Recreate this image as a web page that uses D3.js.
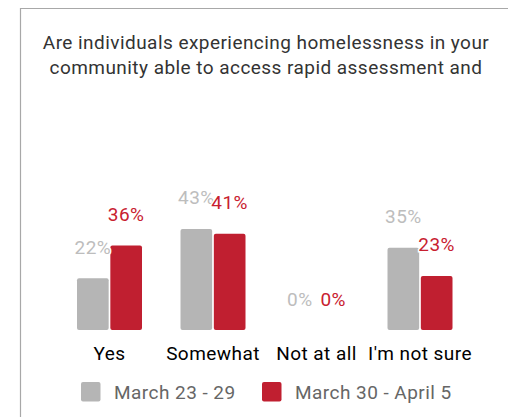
<!DOCTYPE html>
<html>
<head>
<meta charset="utf-8">
<script src="https://cdn.jsdelivr.net/npm/d3@7/dist/d3.min.js"></script>
<style>
html,body{margin:0;padding:0;background:#fff;}
svg{display:block;font-family:Roboto,"Noto Sans",sans-serif;letter-spacing:0.45px;}
</style>
</head>
<body>
<svg id="chart" width="508" height="417"></svg>
<script>
const titleLines = ["Are individuals experiencing homelessness in your", "community able to access rapid assessment and"];
const categories = ["Yes", "Somewhat", "Not at all", "I'm not sure"];
const seriesNames = ["March 23 - 29", "March 30 - April 5"];
const march23 = [22, 43, 0, 35];
const march30 = [36, 41, 0, 23];
const colors = ["#b5b5b5", "#c01f30"];
const labelColors = ["#bdbdbd", "#c8202f"];

const svg = d3.select("#chart");
const W = 508, H = 417;

// frame
svg.append("path").attr("d", `M20.5,${H} L20.5,8.5 L${W},8.5`)
  .attr("fill", "none").attr("stroke", "#a8a8a8").attr("stroke-width", 1.2);

// title
svg.append("g").selectAll("text").data(titleLines).join("text")
  .attr("x", 266).attr("y", (d, i) => 48.5 + i * 25)
  .attr("text-anchor", "middle").attr("font-size", 19).attr("fill", "#333")
  .text(d => d);

const x0 = d3.scaleBand().domain(categories).range([57.75, 471.75]);
const groupW = 65;
const x1 = d3.scaleBand().domain(seriesNames).range([0, groupW]).paddingInner(0.05);
const y = d3.scaleLinear().domain([0, 100]).range([330, 95]);

const data = categories.map((c, i) => ({ cat: c, vals: [march23[i], march30[i]] }));

const groups = svg.append("g").selectAll("g").data(data).join("g")
  .attr("transform", d => `translate(${x0(d.cat) + (x0.bandwidth() - groupW) / 2},0)`);

groups.selectAll("rect").data(d => d.vals.map((v, j) => ({ v, j }))).join("rect")
  .attr("x", d => x1(seriesNames[d.j]))
  .attr("width", x1.bandwidth())
  .attr("y", d => y(d.v))
  .attr("height", d => y(0) - y(d.v))
  .attr("rx", 2).attr("ry", 2)
  .attr("fill", d => colors[d.j]);

groups.selectAll("text").data(d => d.vals.map((v, j) => ({ v, j }))).join("text")
  .attr("x", d => x1(seriesNames[d.j]) + x1.bandwidth() / 2)
  .attr("y", d => y(d.v) - 24.5)
  .attr("text-anchor", "middle").attr("font-size", 19)
  .attr("fill", d => labelColors[d.j])
  .attr("stroke", "#fff").attr("stroke-width", 3).attr("paint-order", "stroke")
  .text(d => d.v + "%");

// category axis labels
const xAxis = d3.axisBottom(x0).tickSize(0).tickPadding(0);
const ax = svg.append("g").attr("transform", "translate(0,330)").call(xAxis);
ax.select(".domain").remove();
ax.selectAll("text").attr("font-size", 19).attr("fill", "#000")
  .attr("font-family", "Roboto,'Noto Sans',sans-serif")
  .attr("dy", null).attr("y", 30);

// legend
const legendX = [81, 262];
const lg = svg.append("g").selectAll("g").data(seriesNames).join("g")
  .attr("transform", (d, i) => `translate(${legendX[i]},382)`);
lg.append("rect").attr("width", 19.5).attr("height", 19.5).attr("rx", 2).attr("fill", (d, i) => colors[i]);
lg.append("text").attr("x", 33).attr("y", 16.5).attr("font-size", 19).attr("fill", "#666").text(d => d);
</script>
</body>
</html>
